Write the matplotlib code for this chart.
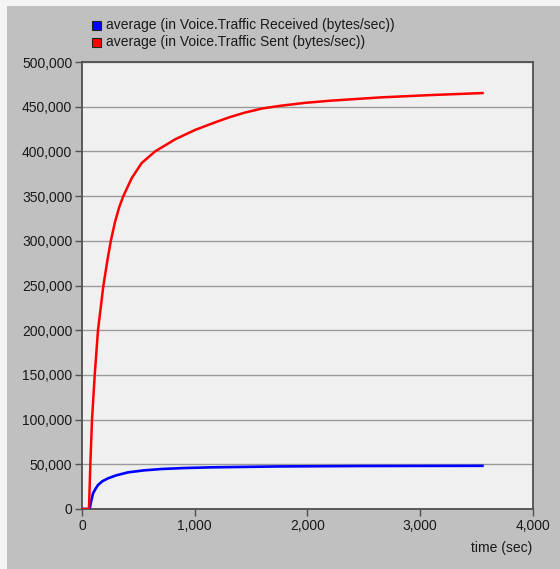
import matplotlib.pyplot as plt
from matplotlib.patches import Rectangle
from matplotlib.ticker import FuncFormatter

# average traffic over the simulation run (bytes/sec), sampled along the curves
sent_time = [0, 62, 74, 89, 113, 142, 190, 228, 256, 293, 330, 367, 441, 530,
             649, 827, 1004, 1182, 1316, 1449, 1600, 1760, 1980, 2204, 2649,
             3093, 3567]
sent_avg = [0, 0, 50000, 100000, 150000, 200000, 250000, 280000, 300000, 321000,
            337500, 350000, 370000, 387000, 400000, 413500, 424000, 432500,
            438500, 443500, 448000, 451000, 454300, 456700, 460400, 463000,
            465300]

recv_time = [0, 68, 80, 98, 120, 142, 180, 231, 300, 409, 550, 702, 900, 1147,
             1742, 2500, 3567]
recv_avg = [0, 0, 8000, 17500, 22500, 26800, 31000, 34300, 37500, 41000, 43200,
            44700, 45800, 46600, 47600, 48100, 48300]

LABELS = ["average (in Voice.Traffic Received (bytes/sec))",
          "average (in Voice.Traffic Sent (bytes/sec))"]
COLORS = ["#0000ff", "#ff0000"]

W, H = 560, 569
plt.rcParams["font.family"] = ["Liberation Sans", "DejaVu Sans"]

fig = plt.figure(figsize=(W / 100, H / 100), dpi=100, facecolor="#c0c0c0")

# light frame along the top and left edges
fig.patches.append(Rectangle((0, 1 - 6 / H), 1, 6 / H, transform=fig.transFigure,
                             facecolor="#f4f4f4", edgecolor="none", zorder=0))
fig.patches.append(Rectangle((0, 0), 7 / W, 1, transform=fig.transFigure,
                             facecolor="#f4f4f4", edgecolor="none", zorder=0))

left, right, top, bottom = 82, 532.5, 62, 509
ax = fig.add_axes([left / W, (H - bottom) / H, (right - left) / W, (bottom - top) / H])
ax.set_facecolor("#f0f0f0")

ax.plot(recv_time, recv_avg, color=COLORS[0], lw=1.9, zorder=3,
        solid_capstyle="butt", solid_joinstyle="round")
ax.plot(sent_time, sent_avg, color=COLORS[1], lw=1.8, zorder=3,
        solid_capstyle="butt", solid_joinstyle="round")

ax.set_xlim(0, 4000)
ax.set_ylim(0, 500000)
ax.set_xticks(range(0, 4001, 1000))
ax.set_yticks(range(0, 500001, 50000))
fmt = FuncFormatter(lambda v, _: f"{int(v):,}")
ax.xaxis.set_major_formatter(fmt)
ax.yaxis.set_major_formatter(fmt)
ax.grid(axis="y", color="#9a9a9a", lw=1.0)
ax.set_axisbelow(True)

for sp in ax.spines.values():
    sp.set_color("#505050")
    sp.set_linewidth(1.3)
ax.tick_params(direction="out", length=5, width=1, color="#505050",
               labelsize=10, labelcolor="#1a1a1a", pad=2)

fig.text(right / W, 1 - 548 / H, "time (sec)", ha="right", va="center",
         fontsize=10, color="#1a1a1a")

# legend swatches and labels above the plot
for i, (lab, col) in enumerate(zip(LABELS, COLORS)):
    yc = 25 + 17 * i
    fig.patches.append(Rectangle((92 / W, 1 - (yc + 5) / H), 9 / W, 9 / H,
                                 transform=fig.transFigure, facecolor=col,
                                 edgecolor="#202020", lw=0.8))
    fig.text(106 / W, 1 - yc / H, lab, ha="left", va="center", fontsize=10,
             color="#1a1a1a")

fig.savefig("out.png", dpi=100, facecolor=fig.get_facecolor())
